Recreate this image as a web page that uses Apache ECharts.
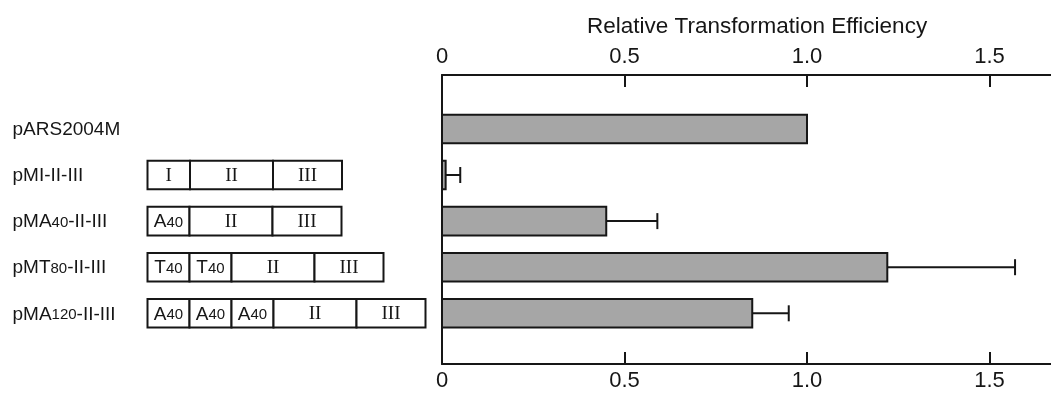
<!DOCTYPE html>
<html>
<head>
<meta charset="utf-8">
<script src="https://cdn.jsdelivr.net/npm/echarts@6/dist/echarts.min.js"></script>
<style>
  html, body { margin: 0; padding: 0; background: #ffffff; }
  #chart { width: 1051px; height: 394px; }
</style>
</head>
<body>
<div id="chart"></div>
<script>
// Plasmid constructs (rows, top to bottom); {s|..} marks the small-print insert length
const constructs = ['pARS2004M', 'pMI-II-III', 'pMA{s|40}-II-III', 'pMT{s|80}-II-III', 'pMA{s|120}-II-III'];
// Element map drawn beside each construct name
const segments = [
  [],
  ['I', 'II', 'III'],
  ['A40', 'II', 'III'],
  ['T40', 'T40', 'II', 'III'],
  ['A40', 'A40', 'A40', 'II', 'III']
];
// Relative transformation efficiency and upper error
const efficiency = [1.0, 0.01, 0.45, 1.22, 0.85];
const errorPlus = [0, 0.04, 0.14, 0.35, 0.10];
// Efficiency axis ticks
const tickValues = [0, 0.5, 1.0, 1.5];
const tickLabels = ['0', '0.5', '1.0', '1.5'];
const axisTitle = 'Relative Transformation Efficiency';

// ---- layout and style ----
const SANS = '"Liberation Sans", Arial, Helvetica, sans-serif';
const SERIF = '"Liberation Serif", "Times New Roman", serif';
const INK = '#161616';
const GRID_TOP = 75, GRID_BOTTOM = 30, PLOT_LEFT = 442;
const ROW_MIN = -1.17, ROW_MAX = 5.10;      // row-axis span incl. margins
const X_MAX = 1.6685;                          // efficiency at right canvas edge
const BAR_H = 0.62;                            // bar / box height in row units
const MAP_X0 = 147.5, LABEL_X = 12.5;          // element map origin, name origin (px units)
const SEG_W = { I: 42.5, A40: 42, T40: 42, II: 83, III: 69 };

const chart = echarts.init(document.getElementById('chart'), null, { renderer: 'canvas' });

function segText(name) {
  if (name === 'A40' || name === 'T40') return '{big|' + name[0] + '}{small|40}';
  return '{roman|' + name + '}';
}

const barData = efficiency.map((v, i) => [v, i, errorPlus[i]]);
const rowData = constructs.map((c, i) => [i]);

const rowAxisBase = {
  type: 'value', inverse: true, min: ROW_MIN, max: ROW_MAX,
  axisLabel: { show: false }, axisTick: { show: false }, splitLine: { show: false }
};

function effAxis(position, labelMargin) {
  return {
    type: 'value', gridIndex: 0, position: position, min: 0, max: X_MAX,
    axisLine: { show: true, onZero: false, lineStyle: { color: INK, width: 2 } },
    axisTick: { show: true, inside: true, length: 12, customValues: tickValues, lineStyle: { color: INK, width: 2 } },
    axisLabel: {
      customValues: tickValues, margin: labelMargin,
      formatter: v => tickLabels[tickValues.indexOf(v)],
      fontFamily: SANS, fontSize: 22, color: INK
    },
    splitLine: { show: false }
  };
}

chart.setOption({
  animation: false,
  backgroundColor: '#ffffff',
  title: {
    text: axisTitle,
    left: 582, top: 10,
    textStyle: { fontFamily: SANS, fontSize: 22.5, fontWeight: 'normal', color: INK }
  },
  grid: [
    { left: PLOT_LEFT, right: 0, top: GRID_TOP, bottom: GRID_BOTTOM },
    { left: 0, width: PLOT_LEFT, top: GRID_TOP, bottom: GRID_BOTTOM }
  ],
  xAxis: [
    effAxis('top', 7),
    effAxis('bottom', 6),
    { type: 'value', gridIndex: 1, min: 0, max: PLOT_LEFT, show: false }
  ],
  yAxis: [
    Object.assign({ gridIndex: 0, axisLine: { show: true, onZero: false, lineStyle: { color: INK, width: 2 } } }, rowAxisBase),
    Object.assign({ gridIndex: 1, show: false }, rowAxisBase)
  ],
  series: [
    {
      // efficiency bars with upper error whiskers
      type: 'custom',
      xAxisIndex: 0, yAxisIndex: 0,
      data: barData,
      encode: { x: 0, y: 1 },
      renderItem: function (params, api) {
        const v = api.value(0), row = api.value(1), err = api.value(2);
        const p0 = api.coord([0, row]);
        const p1 = api.coord([v, row]);
        const h = api.size([0, BAR_H])[1];
        const children = [];
        if (err > 0) {
          const pe = api.coord([v + err, row]);
          children.push({
            type: 'line',
            shape: { x1: p1[0], y1: p1[1], x2: pe[0], y2: pe[1] },
            style: { stroke: INK, lineWidth: 2 }
          });
          children.push({
            type: 'line',
            shape: { x1: pe[0], y1: pe[1] - 8, x2: pe[0], y2: pe[1] + 8 },
            style: { stroke: INK, lineWidth: 2 }
          });
        }
        children.push({
          type: 'rect',
          shape: { x: p0[0], y: p0[1] - h / 2, width: p1[0] - p0[0], height: h },
          style: { fill: '#a6a6a6', stroke: INK, lineWidth: 2 }
        });
        return { type: 'group', children: children };
      }
    },
    {
      // construct names and their element maps
      type: 'custom',
      xAxisIndex: 2, yAxisIndex: 1,
      data: rowData,
      encode: { y: 0 },
      renderItem: function (params, api) {
        const row = api.value(0);
        const children = [];
        const lp = api.coord([LABEL_X, row]);
        children.push({
          type: 'text',
          x: lp[0], y: lp[1] + 1,
          style: {
            text: constructs[row],
            fontFamily: SANS, fontSize: 19, fill: INK,
            align: 'left', verticalAlign: 'middle',
            rich: { s: { fontFamily: SANS, fontSize: 15, fill: INK, verticalAlign: 'bottom', padding: [0, 0, 1, 0] } }
          }
        });
        const h = api.size([0, BAR_H])[1];
        let x = MAP_X0;
        segments[row].forEach(function (name) {
          const a = api.coord([x, row]);
          const b = api.coord([x + SEG_W[name], row]);
          children.push({
            type: 'rect',
            shape: { x: a[0], y: a[1] - h / 2, width: b[0] - a[0], height: h },
            style: { fill: '#ffffff', stroke: INK, lineWidth: 2 }
          });
          children.push({
            type: 'text',
            x: (a[0] + b[0]) / 2, y: a[1] + 1,
            style: {
              text: segText(name),
              align: 'center', verticalAlign: 'middle',
              fontFamily: SANS, fontSize: 18, fill: INK,
              rich: {
                roman: { fontFamily: SERIF, fontSize: 19, fill: INK },
                big: { fontFamily: SANS, fontSize: 19, fill: INK, verticalAlign: 'bottom' },
                small: { fontFamily: SANS, fontSize: 15, fill: INK, verticalAlign: 'bottom', padding: [0, 0, 1, 0] }
              }
            }
          });
          x += SEG_W[name];
        });
        return { type: 'group', children: children };
      }
    }
  ]
});
</script>
</body>
</html>
